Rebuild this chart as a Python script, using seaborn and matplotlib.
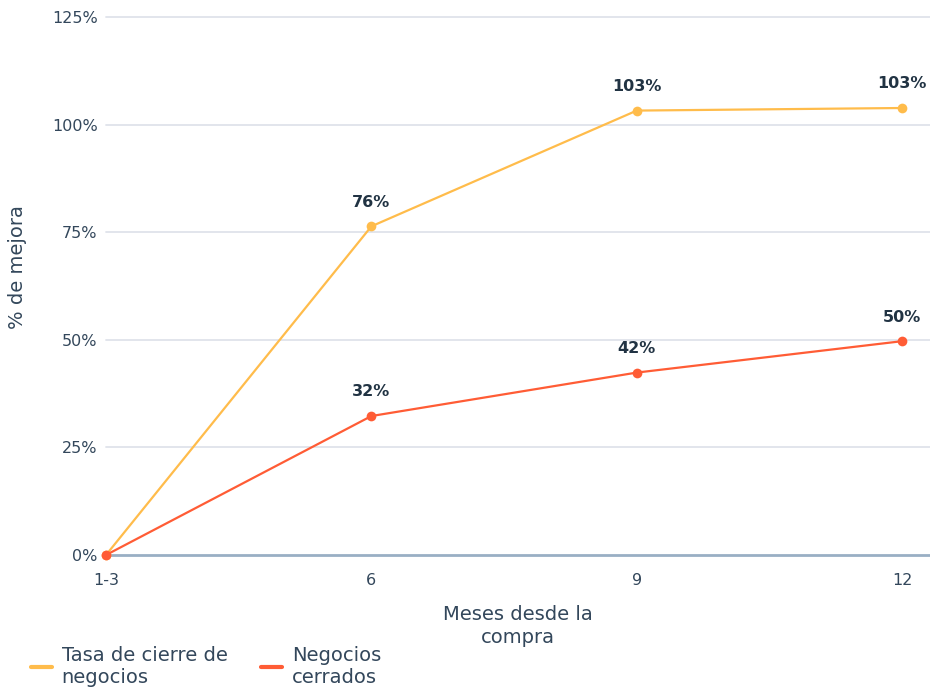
import matplotlib
matplotlib.use("Agg")
import matplotlib.pyplot as plt
import seaborn as sns
import pandas as pd
from matplotlib.lines import Line2D

categories = ["1-3", "6", "9", "12"]
tasa_cierre = [0, 76.4, 103.3, 103.9]
negocios_cerrados = [0, 32.3, 42.4, 49.7]
tasa_labels = ["", "76%", "103%", "103%"]
neg_labels = ["", "32%", "42%", "50%"]
y_ticks = [0, 25, 50, 75, 100, 125]
series_names = ["Tasa de cierre de\nnegocios", "Negocios\ncerrados"]

sns.set_theme(style="white")
plt.rcParams["font.family"] = ["DejaVu Sans"]

YEL = "#ffbc4b"
RED = "#ff5c35"
TXT = "#33475b"
DARK = "#213343"

df = pd.DataFrame({
    "x": list(range(len(categories))) * 2,
    "y": tasa_cierre + negocios_cerrados,
    "serie": [series_names[0]] * 4 + [series_names[1]] * 4,
})

fig = plt.figure(figsize=(9.3, 6.89), dpi=100)
ax = fig.add_axes([0.114, 0.1945, 0.886, 0.7805])

for y in y_ticks[1:]:
    ax.axhline(y, color="#dfe3eb", lw=1.3, zorder=0)
ax.axhline(0, color="#99afc4", lw=2.0, zorder=1)

sns.lineplot(data=df, x="x", y="y", hue="serie", palette=[YEL, RED],
             marker="o", markersize=7, markeredgewidth=0, lw=1.6,
             legend=False, ax=ax, zorder=3)
for ln in ax.get_lines():
    ln.set_clip_on(False)

for i, (v, lab) in enumerate(zip(tasa_cierre, tasa_labels)):
    if lab:
        ax.annotate(lab, (i, v), xytext=(0, 12), textcoords="offset points",
                    ha="center", va="bottom", fontsize=11.5, fontweight="bold", color=DARK)
for i, (v, lab) in enumerate(zip(negocios_cerrados, neg_labels)):
    if lab:
        ax.annotate(lab, (i, v), xytext=(0, 12), textcoords="offset points",
                    ha="center", va="bottom", fontsize=11.5, fontweight="bold", color=DARK)

ax.set_xlim(0, 3.105)
ax.set_ylim(0, 125)
ax.set_yticks(y_ticks)
ax.set_yticklabels([f"{t}%" for t in y_ticks])
ax.set_xticks(range(len(categories)))
ax.set_xticklabels(categories)
ax.tick_params(axis="both", colors=TXT, labelsize=11.5, length=0, pad=6)
ax.tick_params(axis="x", pad=13)
for s in ax.spines.values():
    s.set_visible(False)
ax.set_ylabel("% de mejora", fontsize=14, color=TXT)
ax.yaxis.label.set_va("center")
ax.yaxis.set_label_coords(-0.107, 0.535)
ax.set_xlabel("Meses desde la\ncompra", fontsize=14, color=TXT, labelpad=12, linespacing=1.3)

handles = [Line2D([0], [0], color=YEL, lw=3), Line2D([0], [0], color=RED, lw=3)]
fig.legend(handles, series_names, loc="lower left", bbox_to_anchor=(0.014, -0.022),
           ncol=2, frameon=False, fontsize=14, labelcolor=TXT, handlelength=1.1,
           handletextpad=0.5, columnspacing=1.7, labelspacing=0.15)

fig.savefig("out.png", dpi=100)
